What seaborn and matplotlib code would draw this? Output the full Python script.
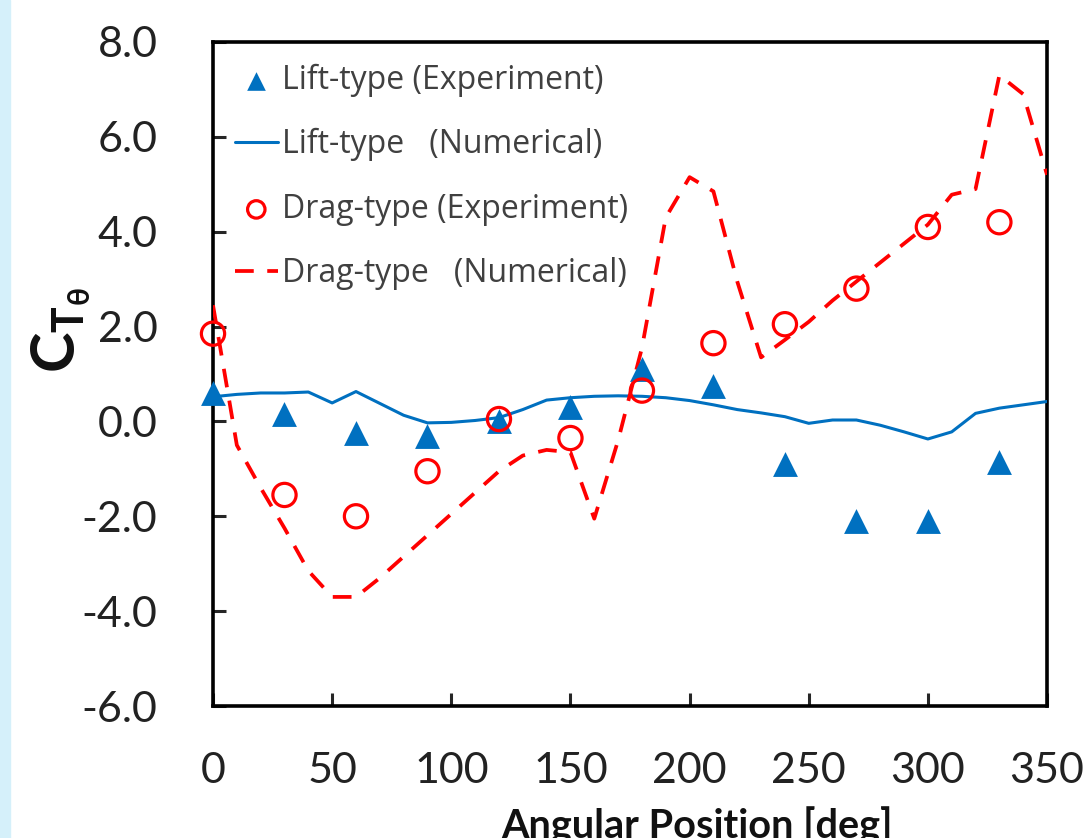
import numpy as np
import pandas as pd
import matplotlib.pyplot as plt
import matplotlib.patches as mpatches
import seaborn as sns

# experiment: every 30 deg
exp_angle = [0, 30, 60, 90, 120, 150, 180, 210, 240, 270, 300, 330]
lift_exp = [0.6, 0.15, -0.25, -0.3, 0.0, 0.3, 1.1, 0.75, -0.9, -2.1, -2.1, -0.85]
drag_exp = [1.85, -1.55, -2.0, -1.05, 0.05, -0.35, 0.65, 1.65, 2.05, 2.8, 4.1, 4.2]

# numerical: every 10 deg
num_angle = list(range(0, 360, 10))
lift_num = [0.52, 0.57, 0.6, 0.6, 0.62, 0.39, 0.63, 0.38, 0.13, -0.03,
            -0.02, 0.02, 0.08, 0.25, 0.45, 0.5, 0.53, 0.54, 0.53, 0.5,
            0.44, 0.35, 0.25, 0.18, 0.1, -0.04, 0.03, 0.03, -0.08, -0.22,
            -0.37, -0.22, 0.17, 0.28, 0.35, 0.42]
drag_num = [2.45, -0.5, -1.4, -2.25, -3.15, -3.7, -3.7, -3.3, -2.85, -2.4,
            -1.95, -1.5, -1.05, -0.72, -0.6, -0.65, -2.05, -0.4, 1.55, 4.3,
            5.15, 4.85, 2.95, 1.35, 1.72, 2.1, 2.55, 2.95, 3.35, 3.75,
            4.15, 4.78, 4.9, 7.3, 6.9, 5.2]

exp_df = pd.DataFrame({'angle': exp_angle, 'lift': lift_exp, 'drag': drag_exp})
num_df = pd.DataFrame({'angle': num_angle, 'lift': lift_num, 'drag': drag_num})

blue = '#0070C0'
red = '#FF0000'

sns.set_theme(style='white')
plt.rcParams['font.family'] = ['Lato', 'DejaVu Sans']
plt.rcParams['axes.unicode_minus'] = False
plt.rcParams['mathtext.fontset'] = 'custom'
plt.rcParams['mathtext.rm'] = 'Lato'
plt.rcParams['mathtext.bf'] = 'Lato:bold'
plt.rcParams['mathtext.it'] = 'Lato:italic'

fig = plt.figure(figsize=(10.84, 8.38), dpi=100)
fig.patches.append(mpatches.Rectangle((0, 0), 10 / 1084, 1, transform=fig.transFigure,
                                      color='#d5f0fa', zorder=0))
ax = fig.add_axes([0.1965, 0.1575, 0.7694, 0.7924])

sns.scatterplot(data=exp_df, x='angle', y='lift', marker='^', s=320, color=blue,
                linewidth=0, label='Lift-type (Experiment)', ax=ax, clip_on=False, zorder=4)
sns.lineplot(data=num_df, x='angle', y='lift', color=blue, linewidth=2.2,
             label='Lift-type   (Numerical)', ax=ax, zorder=3)
sns.scatterplot(data=exp_df, x='angle', y='drag', marker='o', s=280, facecolor='none',
                edgecolor=red, linewidth=2.3, label='Drag-type (Experiment)', ax=ax,
                clip_on=False, zorder=5)
sns.lineplot(data=num_df, x='angle', y='drag', color=red, linewidth=2.7,
             label='Drag-type   (Numerical)', ax=ax, zorder=3)
ax.lines[-1].set_dashes((5, 3.6))

ax.set_xlim(0, 350)
ax.set_ylim(-6, 8)
ax.set_xticks(np.arange(0, 351, 50))
ax.set_yticks(np.arange(-6, 8.1, 2))
ax.set_yticklabels([f'{v:.1f}' for v in np.arange(-6, 8.1, 2)])

for sp in ax.spines.values():
    sp.set_color('black')
    sp.set_linewidth(2.6)

ax.tick_params(axis='x', direction='in', length=9.5, width=2.2, pad=33,
               labelsize=31, labelcolor='#222222', bottom=True)
ax.tick_params(axis='y', direction='in', length=9.5, width=2.2, pad=40,
               labelsize=31, labelcolor='#222222', left=True)

ax.set_xlabel('Angular Position [deg]', fontsize=28.5, fontweight='bold', color='#111111')
ax.xaxis.set_label_coords(0.58, -0.151)
ax.set_ylabel(r'$\mathbf{C}_{\mathbf{T}_{\mathbf{\theta}}}$', fontsize=44, color='#111111')
ax.yaxis.label.set_va('center')
ax.yaxis.set_label_coords(-0.182, 0.566)

leg = ax.legend(loc='upper left', frameon=False, fontsize=23, borderpad=0,
                borderaxespad=0.68, handlelength=1.35, handletextpad=0.13,
                labelspacing=0.98, scatterpoints=1, markerscale=0.75)
for t in leg.get_texts():
    t.set_family(['Open Sans', 'DejaVu Sans'])
    t.set_color('#404040')

fig.savefig('out.png', dpi=100)
